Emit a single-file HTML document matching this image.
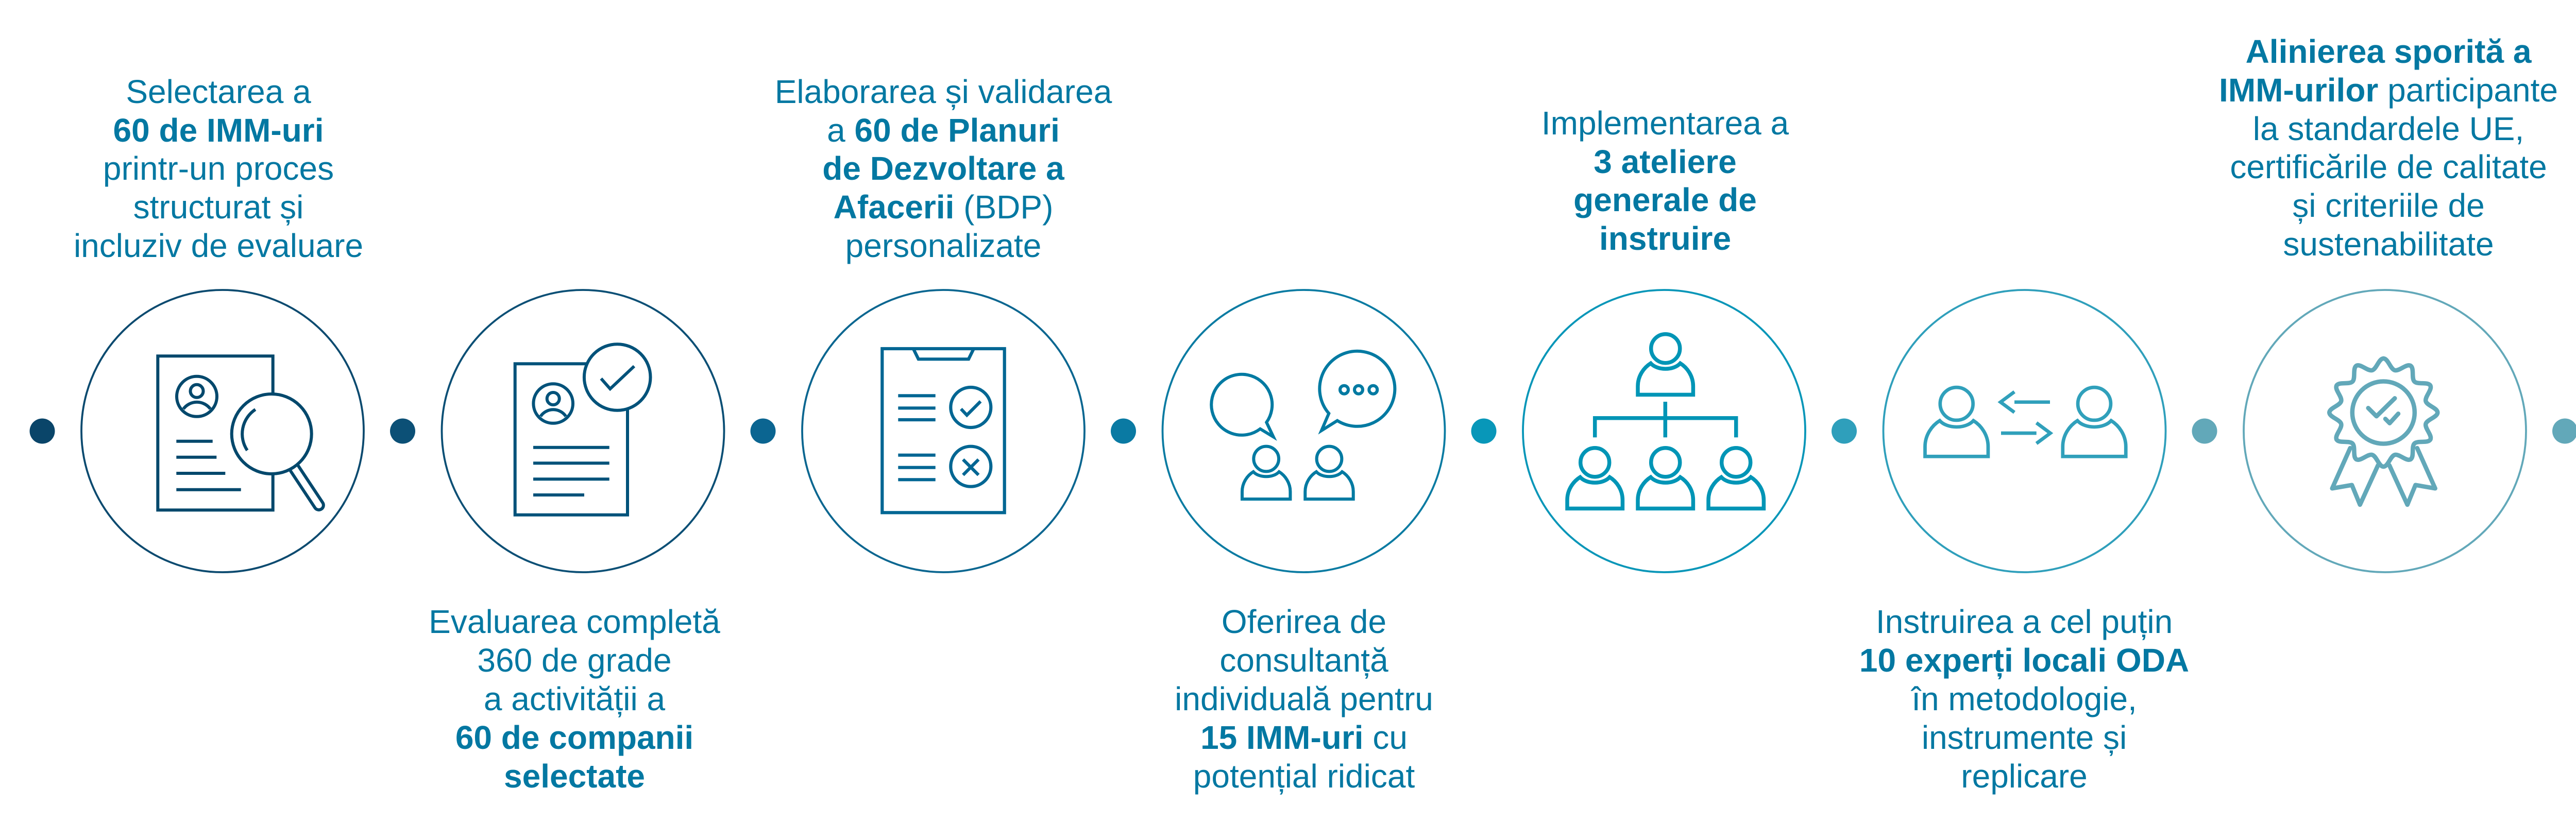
<!DOCTYPE html>
<html>
<head>
<meta charset="utf-8">
<style>
html,body{margin:0;padding:0;background:#ffffff;width:5104px;height:1596px;overflow:hidden}
svg{display:block}
</style>
</head>
<body>
<svg width="5104" height="1596" viewBox="0 0 5104 1596" xmlns="http://www.w3.org/2000/svg">
<rect x="0" y="0" width="5104" height="1596" fill="#ffffff"/>

<!-- dots -->
<circle cx="82" cy="837" r="24.5" fill="#0a4569"/>
<circle cx="781.5" cy="837" r="24.5" fill="#0c5076"/>
<circle cx="1481" cy="837" r="24.5" fill="#0b6591"/>
<circle cx="2180.5" cy="837" r="24.5" fill="#0a7aa3"/>
<circle cx="2880" cy="837" r="24.5" fill="#0897b9"/>
<circle cx="3579.5" cy="837" r="24.5" fill="#2f9fbb"/>
<circle cx="4279" cy="837" r="24.5" fill="#62a8b9"/>
<circle cx="4978.5" cy="837" r="24.5" fill="#62a8b9"/>

<!-- big circles -->
<g fill="none" stroke-width="3.8">
<circle cx="432" cy="837" r="274" stroke="#0b4a6f"/>
<circle cx="1131.5" cy="837" r="274" stroke="#0b4f75"/>
<circle cx="1831" cy="837" r="274" stroke="#0a6690"/>
<circle cx="2530.5" cy="837" r="274" stroke="#0a7ba2"/>
<circle cx="3230" cy="837" r="274" stroke="#0896b8"/>
<circle cx="3929.5" cy="837" r="274" stroke="#2f9fbb"/>
<circle cx="4629" cy="837" r="274" stroke="#62a8b9"/>
</g>

<!-- Icon 1: document + magnifier -->
<g stroke="#03486c" stroke-width="6" fill="none">
<rect x="306.3" y="691.3" width="223.4" height="299"/>
<circle cx="382" cy="769.8" r="39"/>
<circle cx="382" cy="759.3" r="12.5"/>
<path d="M356 794 A32.5 32.5 0 0 1 408.3 794"/>
<path d="M342.3 856.7 H412.7 M342.3 887.7 H420.3 M342.3 919 H437.3 M342.3 950.7 H467.7"/>
<g transform="translate(527.2 842.5) rotate(56.5)">
<rect x="70" y="-9" width="105" height="18" rx="9" fill="#ffffff"/>
</g>
<circle cx="527.2" cy="842.5" r="77.5" fill="#ffffff"/>
<path d="M479.9 874.4 A57 57 0 0 1 495.7 795"/>
</g>

<!-- Icon 2: document + check -->
<g stroke="#00527a" stroke-width="6" fill="none">
<rect x="999.7" y="706.3" width="218.3" height="293.4"/>
<circle cx="1198.2" cy="732.5" r="64.3" fill="#ffffff"/>
<polyline points="1166.7,735 1184.3,755 1231,711"/>
<circle cx="1073.7" cy="783.5" r="38.3"/>
<circle cx="1073.7" cy="774" r="12"/>
<path d="M1049.3 808.3 A29.6 29.6 0 0 1 1098.3 808.3"/>
<path d="M1035 868.7 H1182.7 M1035 899.3 H1182.7 M1035 930.3 H1182.7 M1035 961 H1134"/>
</g>

<!-- Icon 3: clipboard -->
<g stroke="#006693" stroke-width="6.2" fill="none">
<rect x="1712.3" y="677" width="237.4" height="318.3"/>
<polyline points="1772.7,677 1782.7,697.3 1880,697.3 1890,677"/>
<path d="M1743.3 768.3 H1815.7 M1743.3 792.3 H1815.7 M1743.3 815 H1815.7 M1743.3 883.7 H1815.7 M1743.3 907.7 H1815.7 M1743.3 931.3 H1815.7"/>
<circle cx="1884.3" cy="791" r="39"/>
<circle cx="1884.3" cy="905.7" r="39"/>
<polyline points="1865.3,794 1876.7,806 1903.3,779.3"/>
<path d="M1869.3 892.2 L1899.3 922.2 M1899.3 892.2 L1869.3 922.2"/>
</g>

<!-- Icon 4: consultancy -->
<g stroke="#007aa2" stroke-width="6" fill="none">
<path d="M2446 832.7 A59 59 0 1 1 2458.3 820 L2471.7 848.3 Z"/>
<path d="M2579.3 802.7 A73 73 0 1 1 2595.7 816.7 L2565 836 Z"/>
<circle cx="2609" cy="756.7" r="8"/>
<circle cx="2637" cy="756.7" r="8"/>
<circle cx="2665.3" cy="756.7" r="8"/>
<g transform="translate(2457.7 891) scale(0.87)" stroke-width="6.9">
<circle cx="0" cy="0" r="28"/>
<path d="M-53.7 89.7 L-53.7 73 C-53.7 53 -42 37 -28.7 28.7 C-16 43 16 43 28.7 28.7 C42 37 53.7 53 53.7 73 L53.7 89.7 Z"/>
</g>
<g transform="translate(2580 891) scale(0.87)" stroke-width="6.9">
<circle cx="0" cy="0" r="28"/>
<path d="M-53.7 89.7 L-53.7 73 C-53.7 53 -42 37 -28.7 28.7 C-16 43 16 43 28.7 28.7 C42 37 53.7 53 53.7 73 L53.7 89.7 Z"/>
</g>
</g>

<!-- Icon 5: org chart -->
<g stroke="#0095b6" stroke-width="7.5" fill="none">
<g transform="translate(3232.7 676.7)">
<circle cx="0" cy="0" r="28"/>
<path d="M-53.7 89.7 L-53.7 73 C-53.7 53 -42 37 -28.7 28.7 C-16 43 16 43 28.7 28.7 C42 37 53.7 53 53.7 73 L53.7 89.7 Z"/>
</g>
<g transform="translate(3095.7 897.7)">
<circle cx="0" cy="0" r="28"/>
<path d="M-53.7 89.7 L-53.7 73 C-53.7 53 -42 37 -28.7 28.7 C-16 43 16 43 28.7 28.7 C42 37 53.7 53 53.7 73 L53.7 89.7 Z"/>
</g>
<g transform="translate(3232.7 897.7)">
<circle cx="0" cy="0" r="28"/>
<path d="M-53.7 89.7 L-53.7 73 C-53.7 53 -42 37 -28.7 28.7 C-16 43 16 43 28.7 28.7 C42 37 53.7 53 53.7 73 L53.7 89.7 Z"/>
</g>
<g transform="translate(3369.7 897.7)">
<circle cx="0" cy="0" r="28"/>
<path d="M-53.7 89.7 L-53.7 73 C-53.7 53 -42 37 -28.7 28.7 C-16 43 16 43 28.7 28.7 C42 37 53.7 53 53.7 73 L53.7 89.7 Z"/>
</g>
<path d="M3232.3 780 V849.3 M3095.7 849.3 V811.7 H3369.7 V849.3"/>
</g>

<!-- Icon 6: exchange -->
<g stroke="#30a0bb" stroke-width="6.7" fill="none">
<g transform="translate(3797.7 784) scale(1.14)" stroke-width="5.9">
<circle cx="0" cy="0" r="28"/>
<path d="M-53.7 89.7 L-53.7 73 C-53.7 53 -42 37 -28.7 28.7 C-16 43 16 43 28.7 28.7 C42 37 53.7 53 53.7 73 L53.7 89.7 Z"/>
</g>
<g transform="translate(4065 784) scale(1.14)" stroke-width="5.9">
<circle cx="0" cy="0" r="28"/>
<path d="M-53.7 89.7 L-53.7 73 C-53.7 53 -42 37 -28.7 28.7 C-16 43 16 43 28.7 28.7 C42 37 53.7 53 53.7 73 L53.7 89.7 Z"/>
</g>
<path d="M3910 780.7 H3979"/>
<polyline points="3910,760.7 3883,780.7 3910,800.7"/>
<path d="M3884 841 H3952.7"/>
<polyline points="3952.7,821 3979.7,841 3952.7,861"/>
</g>

<!-- Icon 7: rosette -->
<g stroke="#62a8b9" stroke-width="8.5" fill="none" stroke-linecap="round" stroke-linejoin="round">
<polyline points="4561.7,870 4526.7,948.3 4565,941.7 4580.7,980 4615.7,903.3"/>
<polyline points="4691.7,870 4726.7,948.3 4688.4,941.7 4672.7,980 4637.7,903.3"/>
<g transform="translate(4626.3 801)">
<path d="M0,-105 C9,-105 13.31,-84.43 22,-82.1 C30.69,-79.77 44.71,-95.43 52.5,-90.93"/>
<path transform="rotate(30)" d="M0,-105 C9,-105 13.31,-84.43 22,-82.1 C30.69,-79.77 44.71,-95.43 52.5,-90.93"/>
<path transform="rotate(60)" d="M0,-105 C9,-105 13.31,-84.43 22,-82.1 C30.69,-79.77 44.71,-95.43 52.5,-90.93"/>
<path transform="rotate(90)" d="M0,-105 C9,-105 13.31,-84.43 22,-82.1 C30.69,-79.77 44.71,-95.43 52.5,-90.93"/>
<path transform="rotate(120)" d="M0,-105 C9,-105 13.31,-84.43 22,-82.1 C30.69,-79.77 44.71,-95.43 52.5,-90.93"/>
<path transform="rotate(150)" d="M0,-105 C9,-105 13.31,-84.43 22,-82.1 C30.69,-79.77 44.71,-95.43 52.5,-90.93"/>
<path transform="rotate(180)" d="M0,-105 C9,-105 13.31,-84.43 22,-82.1 C30.69,-79.77 44.71,-95.43 52.5,-90.93"/>
<path transform="rotate(210)" d="M0,-105 C9,-105 13.31,-84.43 22,-82.1 C30.69,-79.77 44.71,-95.43 52.5,-90.93"/>
<path transform="rotate(240)" d="M0,-105 C9,-105 13.31,-84.43 22,-82.1 C30.69,-79.77 44.71,-95.43 52.5,-90.93"/>
<path transform="rotate(270)" d="M0,-105 C9,-105 13.31,-84.43 22,-82.1 C30.69,-79.77 44.71,-95.43 52.5,-90.93"/>
<path transform="rotate(300)" d="M0,-105 C9,-105 13.31,-84.43 22,-82.1 C30.69,-79.77 44.71,-95.43 52.5,-90.93"/>
<path transform="rotate(330)" d="M0,-105 C9,-105 13.31,-84.43 22,-82.1 C30.69,-79.77 44.71,-95.43 52.5,-90.93"/>
<circle cx="0" cy="0" r="60.5"/>
</g>
<polyline points="4596.7,792.3 4612.7,808.3 4648.3,773.3"/>
<polyline points="4630,813.3 4638.3,821.7 4655,803.3"/>
</g>

<!-- Texts -->
<g font-family="'Liberation Sans', 'Noto Sans CJK SC', sans-serif" font-size="64" fill="#0378a2" text-anchor="middle">
<!-- Text 1 -->
<text x="424" y="200">Selectarea a</text>
<text x="424" y="275" font-weight="700">60 de IMM-uri</text>
<text x="424" y="349">printr-un proces</text>
<text x="424" y="424">structurat și</text>
<text x="424" y="499">incluziv de evaluare</text>

<!-- Text 2 -->
<text x="1115" y="1229">Evaluarea completă</text>
<text x="1115" y="1304">360 de grade</text>
<text x="1115" y="1379">a activității a</text>
<text x="1115" y="1454" font-weight="700">60 de companii</text>
<text x="1115" y="1529" font-weight="700">selectate</text>

<!-- Text 3 -->
<text x="1831" y="200">Elaborarea și validarea</text>
<text x="1831" y="275">a <tspan font-weight="700">60 de Planuri</tspan></text>
<text x="1831" y="349" font-weight="700">de Dezvoltare a</text>
<text x="1831" y="424"><tspan font-weight="700">Afacerii</tspan> (BDP)</text>
<text x="1831" y="499">personalizate</text>

<!-- Text 4 -->
<text x="2531" y="1229">Oferirea de</text>
<text x="2531" y="1304">consultanță</text>
<text x="2531" y="1379">individuală pentru</text>
<text x="2531" y="1454"><tspan font-weight="700">15 IMM-uri</tspan> cu</text>
<text x="2531" y="1529">potențial ridicat</text>

<!-- Text 5 -->
<text x="3232" y="261">Implementarea a</text>
<text x="3232" y="336" font-weight="700">3 ateliere</text>
<text x="3232" y="410" font-weight="700">generale de</text>
<text x="3232" y="485" font-weight="700">instruire</text>

<!-- Text 6 -->
<text x="3929" y="1229">Instruirea a cel puțin</text>
<text x="3929" y="1304" font-weight="700">10 experți locali ODA</text>
<text x="3929" y="1379">în metodologie,</text>
<text x="3929" y="1454">instrumente și</text>
<text x="3929" y="1529">replicare</text>

<!-- Text 7 -->
<text x="4636" y="122" font-weight="700">Alinierea sporită a</text>
<text x="4636" y="197"><tspan font-weight="700">IMM-urilor</tspan> participante</text>
<text x="4636" y="272">la standardele UE,</text>
<text x="4636" y="346">certificările de calitate</text>
<text x="4636" y="421">și criteriile de</text>
<text x="4636" y="496">sustenabilitate</text>
</g>
</svg>
</body>
</html>
